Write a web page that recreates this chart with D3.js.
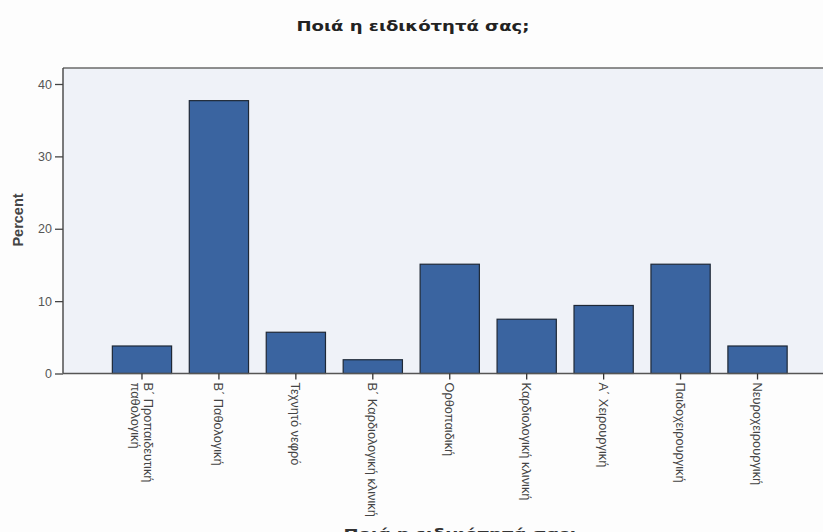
<!DOCTYPE html>
<html>
<head>
<meta charset="utf-8">
<script src="https://cdn.jsdelivr.net/npm/d3@7/dist/d3.min.js"></script>
<style>
  html, body { margin: 0; padding: 0; background: #fdfdfd; }
  svg { display: block; font-family: "Liberation Sans", Arial, sans-serif; }
</style>
</head>
<body>
<svg id="chart" width="823" height="532"></svg>
<script>
const categories = [
  ["Β΄ Προπαιδευτική", "παθολογική"],
  ["Β΄ Παθολογική"],
  ["Τεχνητό νεφρό"],
  ["Β΄ Καρδιολογική κλινική"],
  ["Ορθοπαιδική"],
  ["Καρδιολογική κλινική"],
  ["Α΄ Χειρουργική"],
  ["Παιδοχειρουργική"],
  ["Νευροχειρουργική"]
];
const percents = [3.8, 37.7, 5.7, 1.9, 15.1, 7.5, 9.4, 15.1, 3.8];
const yTicks = [0, 10, 20, 30, 40];
const titleText = "Ποιά η ειδικότητά σας;";
const yTitle = "Percent";

const svg = d3.select("#chart");
const plot = { left: 63, top: 68, right: 870, bottom: 373.5 };

// plot background
svg.append("rect")
  .attr("x", plot.left).attr("y", plot.top)
  .attr("width", plot.right - plot.left).attr("height", plot.bottom - plot.top)
  .attr("fill", "#eff2f8");
svg.append("line")
  .attr("x1", plot.left).attr("x2", plot.right)
  .attr("y1", plot.top).attr("y2", plot.top)
  .attr("stroke", "#6a6a6a").attr("stroke-width", 1.3);

const keys = categories.map((c, i) => i);
const x = d3.scaleBand().domain(keys).range([103.5, 796]).paddingInner(0.23).paddingOuter(0.115);
const y = d3.scaleLinear().domain([0, 40]).range([plot.bottom, 84]);

// bars
svg.append("g").selectAll("rect").data(percents).join("rect")
  .attr("x", (d, i) => x(i))
  .attr("y", d => y(d))
  .attr("width", x.bandwidth())
  .attr("height", d => y(0) - y(d))
  .attr("fill", "#3a64a0")
  .attr("stroke", "#1e2836")
  .attr("stroke-width", 1.2);

// y axis
const yAxis = svg.append("g").attr("transform", `translate(${plot.left},0)`)
  .call(d3.axisLeft(y).tickValues(yTicks).tickSize(8).tickPadding(3).tickSizeOuter(0));
yAxis.select(".domain").attr("d", `M0,${plot.top}V${plot.bottom}`).attr("stroke", "#444").attr("stroke-width", 1.4);
yAxis.selectAll(".tick line").attr("stroke", "#444").attr("stroke-width", 1.3);
yAxis.selectAll(".tick text").attr("font-size", 12.5).attr("fill", "#555")
  .attr("font-family", "'Liberation Sans', Arial, sans-serif");

// x axis
const xAxis = svg.append("g").attr("transform", `translate(0,${plot.bottom})`)
  .call(d3.axisBottom(x).tickSize(6).tickSizeOuter(0).tickFormat(() => ""));
xAxis.select(".domain").attr("d", `M${plot.left},0H${plot.right}`).attr("stroke", "#555").attr("stroke-width", 1.4);
xAxis.selectAll(".tick line").attr("stroke", "#333").attr("stroke-width", 1.3);

xAxis.selectAll(".tick").each(function(d, i) {
  const lines = categories[i];
  const t = d3.select(this).append("text")
    .attr("transform", "translate(0,9) rotate(90)")
    .attr("text-anchor", "start")
    .attr("font-size", 12.8)
    .attr("fill", "#444")
    .attr("font-family", "'Liberation Sans', Arial, sans-serif");
  const n = lines.length;
  lines.forEach((s, j) => {
    t.append("tspan")
      .attr("x", 0)
      .attr("y", (j - (n - 1) / 2) * 13)
      .attr("dy", "0.35em")
      .text(s);
  });
});

// titles
svg.append("text")
  .attr("x", 413).attr("y", 31)
  .attr("text-anchor", "middle")
  .attr("font-family", "'DejaVu Sans', Verdana, sans-serif")
  .attr("font-size", 14).attr("font-weight", "bold").attr("fill", "#222")
  .attr("textLength", 233).attr("lengthAdjust", "spacingAndGlyphs")
  .text(titleText);

svg.append("text")
  .attr("transform", "translate(23,220) rotate(-90)")
  .attr("text-anchor", "middle")
  .attr("font-size", 14.5).attr("font-weight", "bold").attr("fill", "#444")
  .text(yTitle);

svg.append("text")
  .attr("x", 460).attr("y", 539)
  .attr("text-anchor", "middle")
  .attr("font-family", "'DejaVu Sans', Verdana, sans-serif")
  .attr("font-size", 14).attr("font-weight", "bold").attr("fill", "#333")
  .attr("textLength", 233).attr("lengthAdjust", "spacingAndGlyphs")
  .text(titleText);
</script>
</body>
</html>
